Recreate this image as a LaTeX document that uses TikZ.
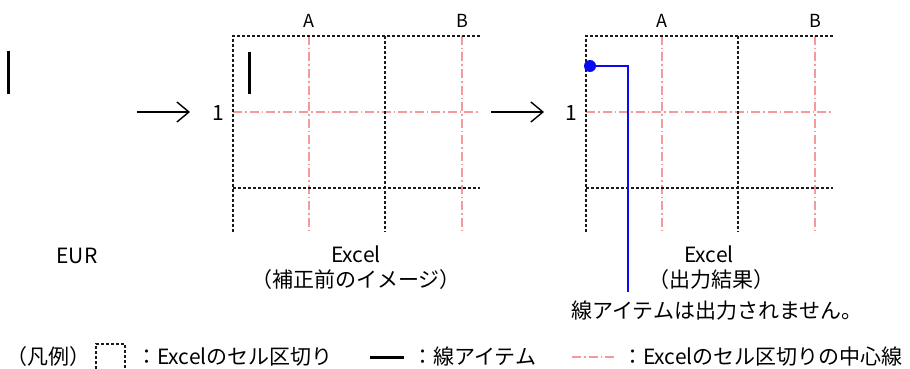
\documentclass[tikz,border=0pt]{standalone}
\usepackage{fontspec}
\setmainfont{Noto Sans CJK JP}
\usepackage{xcolor}
\usetikzlibrary{arrows.meta,positioning,calc}
\definecolor{cs}{HTML}{1A1A1A}
\definecolor{cl}{HTML}{F49A9A}
\definecolor{li}{HTML}{0A0AF0}
\newcommand{\Lbl}[1]{\fontsize{21}{24}\selectfont #1}
\newcommand{\Hdr}[1]{\fontsize{18}{20}\selectfont #1}
\tikzset{
  cellsep/.style={draw=cs, line width=1.8pt, dash pattern=on 3pt off 2pt},
  centerln/.style={draw=cl, line width=1.3pt, dash pattern=on 9pt off 3pt on 1.5pt off 3pt},
  lineitem/.style={draw=black, line width=3pt},
  flowarrow/.style={draw=black, line width=1.4pt, -{Straight Barb[length=12pt,width=20pt,line width=1.4pt]}},
  txt/.style={inner sep=0pt, font=\Lbl{}},
}
\begin{document}
\begin{tikzpicture}[x=1pt,y=-1pt]
  \useasboundingbox (0,0) rectangle (910,369);
  % the two Excel grids
  \foreach \ox/\gn in {0/pre,353/out}{
    \draw[centerln] (233+\ox,112) -- (480+\ox,112);
    \draw[centerln] (309+\ox,36) -- (309+\ox,232);
    \draw[centerln] (462+\ox,36) -- (462+\ox,232);
    \draw[cellsep] (233+\ox,232) -- (233+\ox,36) -- (480+\ox,36);
    \draw[cellsep] (233+\ox,188) -- (480+\ox,188);
    \draw[cellsep] (385+\ox,36) -- (385+\ox,232);
    \node[inner sep=0pt, font=\Hdr{}] (\gn A) at (309+\ox,21) {A};
    \node[inner sep=0pt, font=\Hdr{}] (\gn B) at (462+\ox,21) {B};
    \node[txt] (\gn 1) at (218+\ox,113) {1};
    \node[txt] (\gn X) at (356+\ox,254) {Excel};
  }
  \node[txt] (preC) at (356,280) {（補正前のイメージ）};
  \node[txt] (outC) at (711,280) {（出力結果）};
  % line item before and after correction
  \draw[lineitem] (8,51) -- (8,94);
  \node[txt] (eur) at (77,256) {EUR};
  \draw[lineitem] (249,52) -- (249,94);
  \coordinate (a1s) at (137,112);
  \coordinate (a1e) at (190,112);
  \coordinate (a2s) at (491,112);
  \coordinate (a2e) at (544,112);
  \draw[flowarrow] (a1s) -- (a1e);
  \draw[flowarrow] (a2s) -- (a2e);
  % callout
  \node[circle, fill=li, inner sep=0pt, minimum size=12pt] (dot) at (590,66) {};
  \node[txt, anchor=north] (note) at (717,301) {線アイテムは出力されません。};
  \coordinate (tip) at (628,292);
  \draw[li, line width=1.5pt] (dot.center) -| (tip);
  % legend
  \node[txt, anchor=west] (leg) at (6,357) {（凡例）};
  \draw[cellsep] (96,369) -- (96,344) -- (125,344) -- (125,369);
  \node[txt, anchor=west] (legA) at (136,357) {：Excelのセル区切り};
  \draw[lineitem] (370,357) -- (404,357);
  \node[txt, anchor=west] (legB) at (412,357) {：線アイテム};
  \draw[centerln] (572,357) -- (614,357);
  \node[txt, anchor=west] (legC) at (622,357) {：Excelのセル区切りの中心線};
\end{tikzpicture}
\end{document}
